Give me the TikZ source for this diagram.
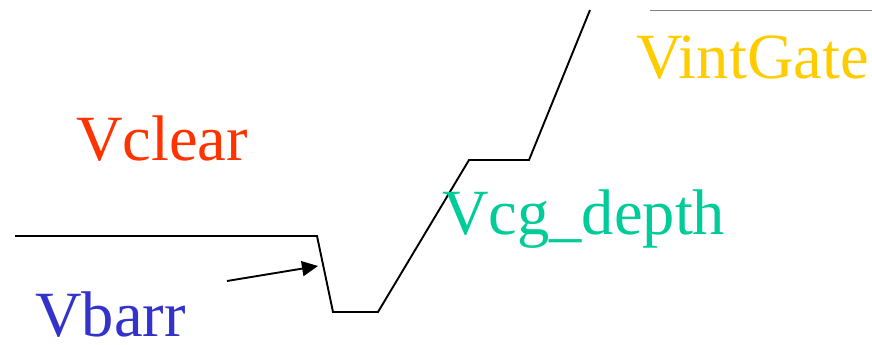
\documentclass[tikz,border=0pt]{standalone}
\usepackage{fontspec}
\setmainfont{Liberation Serif}
\usetikzlibrary{arrows.meta}
\definecolor{cclear}{HTML}{FF3300}
\definecolor{cbarr}{HTML}{3333CC}
\definecolor{ccg}{HTML}{00CC99}
\definecolor{cgate}{HTML}{FFCC00}
\tikzset{
  lbl/.style={anchor=base west, inner sep=0pt, text depth=0pt, font=\fontsize{64.5}{64.5}\selectfont},
  prof/.style={line width=1.9pt, black},
}
\begin{document}
\begin{tikzpicture}[x=1pt,y=-1pt]
\useasboundingbox (0,0) rectangle (872,345);
\coordinate (p1) at (15,236);
\coordinate (p2) at (317,236);
\coordinate (p3) at (333,312);
\coordinate (p4) at (378,312);
\coordinate (p5) at (469,160);
\coordinate (p6) at (529,160);
\coordinate (p7) at (590,10);
\draw[prof] (p1) -- (p2) -- (p3) -- (p4) -- (p5) -- (p6) -- (p7);
\coordinate (g1) at (650,10);
\coordinate (g2) at (872,10);
\draw[line width=0.9pt, gray] (g1) -- (g2);
\coordinate (a1) at (227,281);
\coordinate (a2) at (318,266);
\draw[prof, -{Triangle[length=16pt,width=15pt]}] (a1) -- (a2);
\node[lbl, text=cclear] (vclear) at (76,160) {Vclear};
\node[lbl, text=cbarr] (vbarr) at (35,336) {Vbarr};
\node[lbl, text=ccg] (vcg) at (442,234) {Vcg\_depth};
\node[lbl, text=cgate] (vgate) at (636,78) {VintGate};
\end{tikzpicture}
\end{document}
